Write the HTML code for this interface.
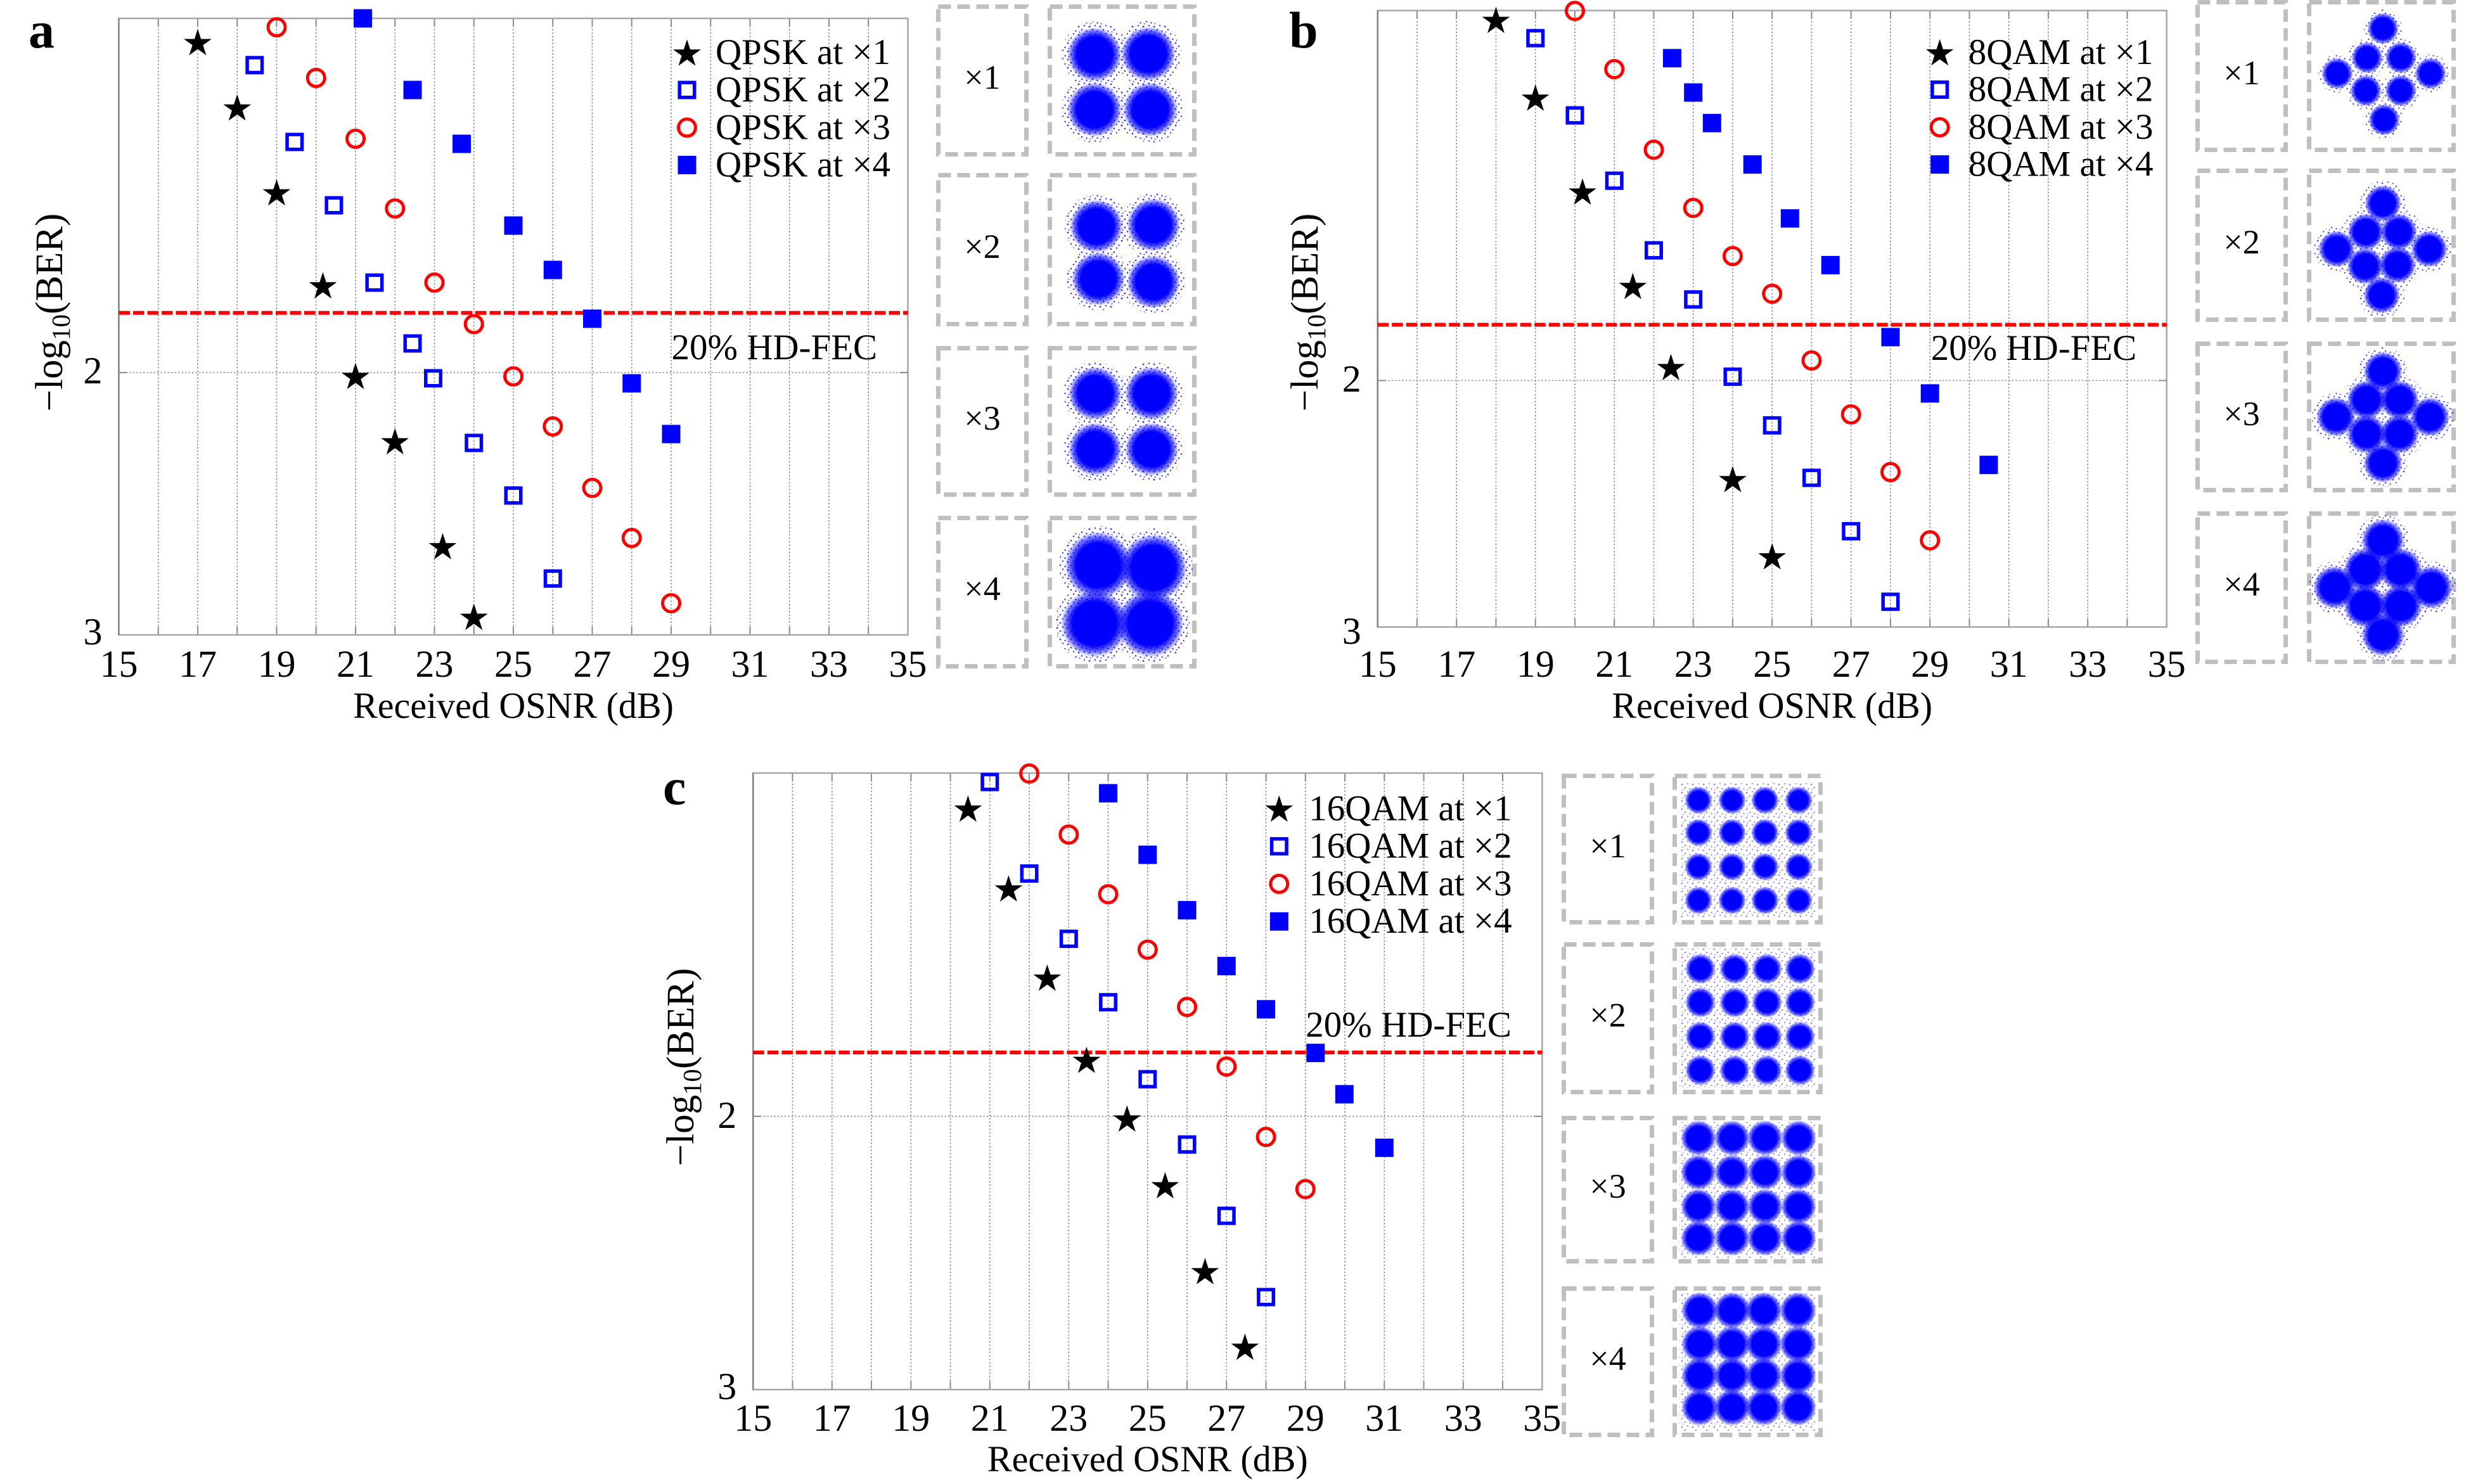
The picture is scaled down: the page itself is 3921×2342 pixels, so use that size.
<!DOCTYPE html>
<html><head><meta charset="utf-8"><style>
html,body{margin:0;padding:0;background:#fff;}
svg{display:block;}
text{font-family:"Liberation Serif","Times New Roman",serif;fill:#000;}
</style></head><body>
<svg width="3921" height="2342" viewBox="0 0 3921 2342" xmlns="http://www.w3.org/2000/svg">
<defs>
<path id="st" d="M0,-23 L5.16,-7.1 L21.87,-7.1 L8.35,2.71 L13.52,18.6 L0,8.78 L-13.52,18.6 L-8.35,2.71 L-21.87,-7.1 L-5.16,-7.1Z" fill="#000"/>
<rect id="os" x="-11.75" y="-11.75" width="23.5" height="23.5" fill="none" stroke="#0000ff" stroke-width="5.5"/>
<rect id="fs" x="-14.5" y="-14.5" width="29" height="29" fill="#0000ff"/>
<circle id="oc" r="13.5" fill="none" stroke="#ff0000" stroke-width="5"/>
<radialGradient id="g">
<stop offset="0" stop-color="#0000ff"/>
<stop offset="0.66" stop-color="#0000ff"/>
<stop offset="0.85" stop-color="#0000ff" stop-opacity="0.55"/>
<stop offset="1" stop-color="#0000ff" stop-opacity="0"/>
</radialGradient>
<pattern id="spk" width="17" height="13" patternUnits="userSpaceOnUse">
<circle cx="2" cy="3" r="1.4" fill="#0000ff"/>
<circle cx="11" cy="1.5" r="1.2" fill="#0000ff"/>
<circle cx="7" cy="8" r="1.3" fill="#0000ff"/>
<circle cx="14.5" cy="10" r="1.2" fill="#0000ff"/>
<circle cx="3.5" cy="11.5" r="1" fill="#0000ff"/>
</pattern>
<g id="frame">
<path d="M62.25,0V973M124.5,0V973M186.75,0V973M249,0V973M311.25,0V973M373.5,0V973M435.75,0V973M498,0V973M560.25,0V973M622.5,0V973M684.75,0V973M747,0V973M809.25,0V973M871.5,0V973M933.75,0V973M996,0V973M1058.25,0V973M1120.5,0V973M1182.75,0V973" stroke="#8a8a8a" stroke-width="1.6" stroke-dasharray="2.5 3" fill="none"/>
<path d="M62.25,973v-13M62.25,0v13M124.5,973v-13M124.5,0v13M186.75,973v-13M186.75,0v13M249,973v-13M249,0v13M311.25,973v-13M311.25,0v13M373.5,973v-13M373.5,0v13M435.75,973v-13M435.75,0v13M498,973v-13M498,0v13M560.25,973v-13M560.25,0v13M622.5,973v-13M622.5,0v13M684.75,973v-13M684.75,0v13M747,973v-13M747,0v13M809.25,973v-13M809.25,0v13M871.5,973v-13M871.5,0v13M933.75,973v-13M933.75,0v13M996,973v-13M996,0v13M1058.25,973v-13M1058.25,0v13M1120.5,973v-13M1120.5,0v13M1182.75,973v-13M1182.75,0v13" stroke="#8a8a8a" stroke-width="2" fill="none"/>
<rect x="0" y="0" width="1245" height="973" fill="none" stroke="#a6a6a6" stroke-width="2.5"/>
<path d="M0,0V973" stroke="#777" stroke-width="2"/>
</g>
<g id="xt" font-size="60" text-anchor="middle">
<text x="0">15</text><text x="124.5">17</text><text x="249">19</text><text x="373.5">21</text><text x="498">23</text><text x="622.5">25</text><text x="747">27</text><text x="871.5">29</text><text x="996">31</text><text x="1120.5">33</text><text x="1245">35</text>
</g>
</defs>
<rect width="3921" height="2342" fill="#fff"/>

<!-- ================= PANEL A ================= -->
<text x="45" y="75" font-size="82" font-weight="bold">a</text>
<use href="#frame" x="187.5" y="29"/>
<g transform="translate(187.5,0)">
<path d="M0,588H1245" stroke="#8a8a8a" stroke-width="1.6" stroke-dasharray="2.5 3"/>
<path d="M0,588h13M1245,588h-13" stroke="#8a8a8a" stroke-width="2"/>
<path d="M0,493.7H1245" stroke="#ff0000" stroke-width="6" stroke-dasharray="17.5 5"/>
<use href="#st" x="124.5" y="68.6"/><use href="#st" x="186.75" y="171.8"/><use href="#st" x="249" y="305.7"/><use href="#st" x="322" y="452.5"/><use href="#st" x="373.5" y="595.5"/><use href="#st" x="435.75" y="698.6"/><use href="#st" x="511" y="864.2"/><use href="#st" x="560.25" y="975.6"/>
<use href="#os" x="214.3" y="102.8"/><use href="#os" x="277.3" y="224"/><use href="#os" x="339.4" y="324"/><use href="#os" x="403.4" y="446"/><use href="#os" x="463.5" y="542"/><use href="#os" x="496" y="597"/><use href="#os" x="560.25" y="699"/><use href="#os" x="622.5" y="782"/><use href="#os" x="684.75" y="913"/>
<use href="#oc" x="249" y="43"/><use href="#oc" x="311.25" y="123"/><use href="#oc" x="373.5" y="219"/><use href="#oc" x="435.75" y="329"/><use href="#oc" x="498" y="446"/><use href="#oc" x="560.25" y="511.5"/><use href="#oc" x="622.5" y="594"/><use href="#oc" x="684.75" y="673"/><use href="#oc" x="747" y="770"/><use href="#oc" x="809.25" y="849"/><use href="#oc" x="871.5" y="952"/>
<use href="#fs" x="385" y="29"/><use href="#fs" x="463.5" y="142"/><use href="#fs" x="541" y="227"/><use href="#fs" x="622.5" y="356"/><use href="#fs" x="684.75" y="426"/><use href="#fs" x="747" y="503"/><use href="#fs" x="809.25" y="605"/><use href="#fs" x="871.5" y="685"/>
<use href="#st" x="896.5" y="85.2"/><use href="#os" x="896.5" y="142"/><use href="#oc" x="896.5" y="201.4"/><use href="#fs" x="896.5" y="260.4"/>
<g font-size="57"><text x="941.5" y="101">QPSK at ×1</text><text x="941.5" y="160">QPSK at ×2</text><text x="941.5" y="219.5">QPSK at ×3</text><text x="941.5" y="278.5">QPSK at ×4</text>
<text x="872" y="567">20% HD-FEC</text></g>
<use href="#xt" x="0" y="1068"/>
<g font-size="60" text-anchor="end"><text x="-26" y="605">2</text><text x="-26" y="1017">3</text></g>
<text x="622.5" y="1133" font-size="58" text-anchor="middle">Received OSNR (dB)</text>
</g>
<text transform="translate(98,493) rotate(-90)" font-size="61" text-anchor="middle">−log<tspan font-size="41" dy="12">10</tspan><tspan dy="-12">(BER)</tspan></text>

<!-- panel a tiles -->
<g fill="none" stroke="#bfbfbf" stroke-width="7" stroke-dasharray="20 10">
<rect x="1480.5" y="10.5" width="139" height="233"/><rect x="1656.5" y="10.5" width="228" height="233"/>
<rect x="1480.5" y="276.5" width="139" height="235"/><rect x="1656.5" y="276.5" width="228" height="235"/>
<rect x="1480.5" y="549.5" width="139" height="231"/><rect x="1656.5" y="549.5" width="228" height="231"/>
<rect x="1480.5" y="817.5" width="139" height="234"/><rect x="1656.5" y="817.5" width="228" height="234"/>
</g>
<g font-size="54" text-anchor="middle"><text x="1550" y="140">×1</text><text x="1550" y="407">×2</text><text x="1550" y="678">×3</text><text x="1550" y="947">×4</text></g>
<g fill="url(#spk)" opacity="0.8">
<circle cx="1727" cy="86" r="52"/><circle cx="1812" cy="85" r="52"/><circle cx="1727" cy="173" r="52"/><circle cx="1815" cy="173" r="52"/>
<circle cx="1730" cy="357" r="50"/><circle cx="1820" cy="355" r="50"/><circle cx="1733" cy="440" r="50"/><circle cx="1820" cy="445" r="50"/>
<circle cx="1728" cy="621" r="50"/><circle cx="1817" cy="621" r="50"/><circle cx="1728" cy="709" r="50"/><circle cx="1817" cy="709" r="50"/>
<circle cx="1733" cy="892" r="62"/><circle cx="1820" cy="896" r="62"/><circle cx="1727" cy="984" r="62"/><circle cx="1815" cy="984" r="62"/>
</g>
<g fill="url(#g)">
<circle cx="1727" cy="86" r="43"/><circle cx="1812" cy="85" r="43"/><circle cx="1727" cy="173" r="43"/><circle cx="1815" cy="173" r="43"/>
<circle cx="1730" cy="357" r="42"/><circle cx="1820" cy="355" r="42"/><circle cx="1733" cy="440" r="42"/><circle cx="1820" cy="445" r="42"/>
<circle cx="1728" cy="621" r="42"/><circle cx="1817" cy="621" r="42"/><circle cx="1728" cy="709" r="42"/><circle cx="1817" cy="709" r="42"/>
<circle cx="1733" cy="892" r="53"/><circle cx="1820" cy="896" r="53"/><circle cx="1727" cy="984" r="53"/><circle cx="1815" cy="984" r="53"/>
</g>

<!-- ================= PANEL B ================= -->
<text x="2034" y="75" font-size="82" font-weight="bold">b</text>
<use href="#frame" x="2173.7" y="16.6"/>
<g transform="translate(2173.7,0)">
<path d="M0,600.5H1245" stroke="#8a8a8a" stroke-width="1.6" stroke-dasharray="2.5 3"/>
<path d="M0,600.5h13M1245,600.5h-13" stroke="#8a8a8a" stroke-width="2"/>
<path d="M0,512.5H1245" stroke="#ff0000" stroke-width="6" stroke-dasharray="17.5 5"/>
<use href="#st" x="186.75" y="33.6"/><use href="#st" x="249" y="156.3"/><use href="#st" x="323.3" y="304.5"/><use href="#st" x="402.7" y="453.5"/><use href="#st" x="462.8" y="581.5"/><use href="#st" x="560.25" y="758.3"/><use href="#st" x="622.5" y="880.2"/>
<use href="#os" x="249" y="60.2"/><use href="#os" x="311.25" y="182.1"/><use href="#os" x="373.5" y="285.2"/><use href="#os" x="435.75" y="395.1"/><use href="#os" x="498" y="472.6"/><use href="#os" x="560.25" y="594.5"/><use href="#os" x="622.5" y="671.3"/><use href="#os" x="684.75" y="754.1"/><use href="#os" x="747" y="838.3"/><use href="#os" x="809.25" y="949.7"/>
<use href="#oc" x="311.25" y="17.3"/><use href="#oc" x="373.5" y="109.1"/><use href="#oc" x="435.75" y="236.3"/><use href="#oc" x="498" y="328.1"/><use href="#oc" x="560.25" y="404.1"/><use href="#oc" x="622.5" y="463.6"/><use href="#oc" x="684.75" y="568.9"/><use href="#oc" x="747" y="654"/><use href="#oc" x="809.25" y="745"/><use href="#oc" x="871.5" y="852.7"/>
<use href="#fs" x="464.7" y="91.8"/><use href="#fs" x="498" y="146"/><use href="#fs" x="527.6" y="194.2"/><use href="#fs" x="591.5" y="259.6"/><use href="#fs" x="650.6" y="344.7"/><use href="#fs" x="714.5" y="418.4"/><use href="#fs" x="809.25" y="532"/><use href="#fs" x="871.5" y="620.9"/><use href="#fs" x="964.2" y="733.7"/>
<use href="#st" x="887" y="84.8"/><use href="#os" x="887" y="141.5"/><use href="#oc" x="887" y="200.9"/><use href="#fs" x="887" y="259.6"/>
<g font-size="57"><text x="932" y="101">8QAM at ×1</text><text x="932" y="159.5">8QAM at ×2</text><text x="932" y="219">8QAM at ×3</text><text x="932" y="277.5">8QAM at ×4</text>
<text x="873" y="568">20% HD-FEC</text></g>
<use href="#xt" x="0" y="1068"/>
<g font-size="60" text-anchor="end"><text x="-26" y="618">2</text><text x="-26" y="1016">3</text></g>
<text x="622.5" y="1133" font-size="58" text-anchor="middle">Received OSNR (dB)</text>
</g>
<text transform="translate(2079,493) rotate(-90)" font-size="61" text-anchor="middle">−log<tspan font-size="41" dy="12">10</tspan><tspan dy="-12">(BER)</tspan></text>

<!-- panel b tiles -->
<g fill="none" stroke="#bfbfbf" stroke-width="7" stroke-dasharray="20 10">
<rect x="3467.5" y="3.5" width="139" height="233"/><rect x="3643.5" y="3.5" width="228" height="233"/>
<rect x="3467.5" y="269.5" width="139" height="235"/><rect x="3643.5" y="269.5" width="228" height="235"/>
<rect x="3467.5" y="542.5" width="139" height="231"/><rect x="3643.5" y="542.5" width="228" height="231"/>
<rect x="3467.5" y="810.5" width="139" height="234"/><rect x="3643.5" y="810.5" width="228" height="234"/>
</g>
<g font-size="54" text-anchor="middle"><text x="3537" y="133">×1</text><text x="3537" y="400">×2</text><text x="3537" y="671">×3</text><text x="3537" y="940">×4</text></g>
<g fill="url(#spk)" opacity="0.7">
<circle cx="3760" cy="45" r="30"/><circle cx="3735" cy="91" r="30"/><circle cx="3788" cy="91" r="30"/><circle cx="3688" cy="116" r="30"/><circle cx="3835" cy="116" r="30"/><circle cx="3733" cy="143" r="30"/><circle cx="3788" cy="143" r="30"/><circle cx="3762" cy="189" r="30"/>
<circle cx="3760" cy="321" r="36"/><circle cx="3733" cy="366" r="36"/><circle cx="3785" cy="366" r="36"/><circle cx="3687" cy="393" r="36"/><circle cx="3833" cy="393" r="36"/><circle cx="3732" cy="420" r="36"/><circle cx="3783" cy="418" r="36"/><circle cx="3758" cy="466" r="36"/>
<circle cx="3760" cy="586" r="38"/><circle cx="3734" cy="631" r="38"/><circle cx="3786" cy="631" r="38"/><circle cx="3686" cy="658" r="38"/><circle cx="3834" cy="658" r="38"/><circle cx="3734" cy="685" r="38"/><circle cx="3786" cy="685" r="38"/><circle cx="3760" cy="731" r="38"/>
<circle cx="3760" cy="853" r="41"/><circle cx="3732" cy="899" r="41"/><circle cx="3788" cy="899" r="41"/><circle cx="3684" cy="927" r="41"/><circle cx="3836" cy="927" r="41"/><circle cx="3732" cy="956" r="41"/><circle cx="3788" cy="956" r="41"/><circle cx="3760" cy="1002" r="41"/>
</g>
<g fill="url(#g)">
<circle cx="3760" cy="45" r="25"/><circle cx="3735" cy="91" r="25"/><circle cx="3788" cy="91" r="25"/><circle cx="3688" cy="116" r="25"/><circle cx="3835" cy="116" r="25"/><circle cx="3733" cy="143" r="25"/><circle cx="3788" cy="143" r="25"/><circle cx="3762" cy="189" r="25"/>
<circle cx="3760" cy="321" r="29"/><circle cx="3733" cy="366" r="29"/><circle cx="3785" cy="366" r="29"/><circle cx="3687" cy="393" r="29"/><circle cx="3833" cy="393" r="29"/><circle cx="3732" cy="420" r="29"/><circle cx="3783" cy="418" r="29"/><circle cx="3758" cy="466" r="29"/>
<circle cx="3760" cy="586" r="31"/><circle cx="3734" cy="631" r="31"/><circle cx="3786" cy="631" r="31"/><circle cx="3686" cy="658" r="31"/><circle cx="3834" cy="658" r="31"/><circle cx="3734" cy="685" r="31"/><circle cx="3786" cy="685" r="31"/><circle cx="3760" cy="731" r="31"/>
<circle cx="3760" cy="853" r="34"/><circle cx="3732" cy="899" r="34"/><circle cx="3788" cy="899" r="34"/><circle cx="3684" cy="927" r="34"/><circle cx="3836" cy="927" r="34"/><circle cx="3732" cy="956" r="34"/><circle cx="3788" cy="956" r="34"/><circle cx="3760" cy="1002" r="34"/>
</g>

<!-- ================= PANEL C ================= -->
<text x="1046" y="1269" font-size="82" font-weight="bold">c</text>
<use href="#frame" x="1188.3" y="1220"/>
<g transform="translate(1188.3,0)">
<path d="M0,1761.7H1245" stroke="#8a8a8a" stroke-width="1.6" stroke-dasharray="2.5 3"/>
<path d="M0,1761.7h13M1245,1761.7h-13" stroke="#8a8a8a" stroke-width="2"/>
<path d="M0,1661H1245" stroke="#ff0000" stroke-width="6" stroke-dasharray="17.5 5"/>
<use href="#st" x="339.1" y="1278.3"/><use href="#st" x="403.1" y="1404.3"/><use href="#st" x="464.1" y="1545.1"/><use href="#st" x="526.1" y="1674.8"/><use href="#st" x="590" y="1767.4"/><use href="#st" x="650.1" y="1872.7"/><use href="#st" x="713.1" y="2008.3"/><use href="#st" x="776.1" y="2127.6"/>
<use href="#os" x="373.5" y="1234.1"/><use href="#os" x="435.75" y="1378.6"/><use href="#os" x="498" y="1481.6"/><use href="#os" x="560.25" y="1581.7"/><use href="#os" x="622.5" y="1703.2"/><use href="#os" x="684.75" y="1806.2"/><use href="#os" x="747" y="1918.8"/><use href="#os" x="809.25" y="2047"/>
<use href="#oc" x="435.75" y="1220.8"/><use href="#oc" x="498" y="1317.1"/><use href="#oc" x="560.25" y="1411.2"/><use href="#oc" x="622.5" y="1498.7"/><use href="#oc" x="684.75" y="1589.1"/><use href="#oc" x="747" y="1683.2"/><use href="#oc" x="809.25" y="1794.3"/><use href="#oc" x="871.5" y="1876.6"/>
<use href="#fs" x="560.25" y="1251.9"/><use href="#fs" x="622.5" y="1349"/><use href="#fs" x="684.75" y="1436.4"/><use href="#fs" x="747" y="1524.6"/><use href="#fs" x="809.25" y="1592.8"/><use href="#fs" x="887.5" y="1661.7"/><use href="#fs" x="933" y="1726.9"/><use href="#fs" x="996" y="1811.4"/>
<use href="#st" x="830" y="1278.3"/><use href="#os" x="830" y="1335.6"/><use href="#oc" x="830" y="1394.9"/><use href="#fs" x="830" y="1454.2"/>
<g font-size="57"><text x="877" y="1294.5">16QAM at ×1</text><text x="877" y="1353.5">16QAM at ×2</text><text x="877" y="1413">16QAM at ×3</text><text x="877" y="1472">16QAM at ×4</text>
<text x="872" y="1636">20% HD-FEC</text></g>
<use href="#xt" x="0" y="2258"/>
<g font-size="60" text-anchor="end"><text x="-26" y="1780">2</text><text x="-26" y="2208">3</text></g>
<text x="622.5" y="2322" font-size="58" text-anchor="middle">Received OSNR (dB)</text>
</g>
<text transform="translate(1094,1684) rotate(-90)" font-size="61" text-anchor="middle">−log<tspan font-size="41" dy="12">10</tspan><tspan dy="-12">(BER)</tspan></text>

<!-- panel c tiles -->
<g fill="none" stroke="#bfbfbf" stroke-width="7" stroke-dasharray="20 10">
<rect x="2467.5" y="1224.5" width="139" height="231"/><rect x="2642.5" y="1224.5" width="230" height="231"/>
<rect x="2467.5" y="1490.5" width="139" height="233"/><rect x="2642.5" y="1490.5" width="230" height="233"/>
<rect x="2467.5" y="1764.5" width="139" height="226"/><rect x="2642.5" y="1764.5" width="230" height="226"/>
<rect x="2467.5" y="2033.5" width="139" height="231"/><rect x="2642.5" y="2033.5" width="230" height="231"/>
</g>
<g font-size="54" text-anchor="middle"><text x="2537" y="1353">×1</text><text x="2537" y="1620">×2</text><text x="2537" y="1890">×3</text><text x="2537" y="2162">×4</text></g>
<g fill="url(#spk)" opacity="0.45">
<rect x="2652" y="1236" width="212" height="212"/>
<rect x="2650" y="1497" width="214" height="220"/>
<rect x="2650" y="1771" width="214" height="214"/>
<rect x="2650" y="2040" width="214" height="218"/>
</g>
<g fill="url(#g)">
<circle cx="2680" cy="1263" r="22"/><circle cx="2733" cy="1263" r="22"/><circle cx="2785" cy="1263" r="22"/><circle cx="2838" cy="1263" r="22"/>
<circle cx="2680" cy="1314" r="22"/><circle cx="2733" cy="1314" r="22"/><circle cx="2785" cy="1314" r="22"/><circle cx="2838" cy="1314" r="22"/>
<circle cx="2680" cy="1368" r="22"/><circle cx="2733" cy="1368" r="22"/><circle cx="2785" cy="1368" r="22"/><circle cx="2838" cy="1368" r="22"/>
<circle cx="2680" cy="1421" r="22"/><circle cx="2733" cy="1421" r="22"/><circle cx="2785" cy="1421" r="22"/><circle cx="2838" cy="1421" r="22"/>

<circle cx="2683" cy="1529" r="24"/><circle cx="2737" cy="1529" r="24"/><circle cx="2788" cy="1529" r="24"/><circle cx="2840" cy="1529" r="24"/>
<circle cx="2683" cy="1582" r="24"/><circle cx="2737" cy="1582" r="24"/><circle cx="2788" cy="1582" r="24"/><circle cx="2840" cy="1582" r="24"/>
<circle cx="2683" cy="1636" r="24"/><circle cx="2737" cy="1636" r="24"/><circle cx="2788" cy="1636" r="24"/><circle cx="2840" cy="1636" r="24"/>
<circle cx="2683" cy="1689" r="24"/><circle cx="2737" cy="1689" r="24"/><circle cx="2788" cy="1689" r="24"/><circle cx="2840" cy="1689" r="24"/>

<circle cx="2680" cy="1796" r="28"/><circle cx="2733" cy="1796" r="28"/><circle cx="2785" cy="1796" r="28"/><circle cx="2838" cy="1796" r="28"/>
<circle cx="2680" cy="1850" r="28"/><circle cx="2733" cy="1850" r="28"/><circle cx="2785" cy="1850" r="28"/><circle cx="2838" cy="1850" r="28"/>
<circle cx="2680" cy="1904" r="28"/><circle cx="2733" cy="1904" r="28"/><circle cx="2785" cy="1904" r="28"/><circle cx="2838" cy="1904" r="28"/>
<circle cx="2680" cy="1954" r="28"/><circle cx="2733" cy="1954" r="28"/><circle cx="2785" cy="1954" r="28"/><circle cx="2838" cy="1954" r="28"/>

<circle cx="2682" cy="2068" r="29"/><circle cx="2733" cy="2068" r="29"/><circle cx="2783" cy="2068" r="29"/><circle cx="2837" cy="2068" r="29"/>
<circle cx="2682" cy="2121" r="29"/><circle cx="2733" cy="2121" r="29"/><circle cx="2783" cy="2121" r="29"/><circle cx="2837" cy="2121" r="29"/>
<circle cx="2682" cy="2171" r="29"/><circle cx="2733" cy="2171" r="29"/><circle cx="2783" cy="2171" r="29"/><circle cx="2837" cy="2171" r="29"/>
<circle cx="2682" cy="2221" r="29"/><circle cx="2733" cy="2221" r="29"/><circle cx="2783" cy="2221" r="29"/><circle cx="2837" cy="2221" r="29"/>
</g>
</svg>
</body></html>
